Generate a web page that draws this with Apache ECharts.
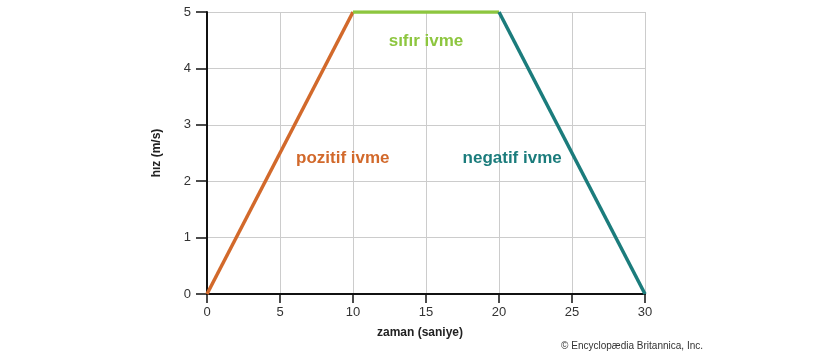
<!DOCTYPE html>
<html><head><meta charset="utf-8">
<script src="https://cdn.jsdelivr.net/npm/echarts@6/dist/echarts.min.js"></script>
<style>html,body{margin:0;padding:0;background:#fff}#c{width:825px;height:357px}</style>
</head><body><div id="c"></div>
<script>
const xTicks = [0, 5, 10, 15, 20, 25, 30];
const yTicks = [0, 1, 2, 3, 4, 5];
const positiveSeg = [[0, 0], [10, 5]];
const zeroSeg = [[10, 5], [20, 5]];
const negativeSeg = [[20, 5], [30, 0]];
const labelTexts = ['pozitif ivme', 'sıfır ivme', 'negatif ivme'];
const labelPoints = [[9.3, 2.40], [15.0, 4.48], [20.9, 2.40]];
const colors = ['#d2692b', '#8dc63f', '#1b7c7c'];

const chart = echarts.init(document.getElementById('c'));
const font = 'Liberation Sans, Arial, Helvetica, sans-serif';
chart.setOption({
  animation: false,
  grid: {left: 207, right: 180, top: 12, bottom: 63},
  xAxis: {
    type: 'value', min: 0, max: 30, interval: 5,
    name: 'zaman (saniye)', nameLocation: 'middle', nameGap: 33,
    nameTextStyle: {fontFamily: font, fontSize: 12, fontWeight: 'bold', color: '#222', padding: [0, 12, 0, 0]},
    axisLine: {show: true, lineStyle: {color: '#111', width: 2}},
    axisTick: {show: true, length: 9, lineStyle: {color: '#111', width: 1.5}},
    axisLabel: {fontFamily: font, fontSize: 13, color: '#333', margin: 12},
    splitLine: {show: true, lineStyle: {color: '#cccccc', width: 1}}
  },
  yAxis: {
    type: 'value', min: 0, max: 5, interval: 1,
    name: 'hız (m/s)', nameLocation: 'middle', nameGap: 44, nameRotate: 90,
    nameTextStyle: {fontFamily: font, fontSize: 12, fontWeight: 'bold', color: '#222'},
    axisLine: {show: true, lineStyle: {color: '#111', width: 2}},
    axisTick: {show: true, length: 11, lineStyle: {color: '#111', width: 1.5}},
    axisLabel: {fontFamily: font, fontSize: 13, color: '#333', margin: 16},
    splitLine: {show: true, lineStyle: {color: '#cccccc', width: 1}}
  },
  series: [
    {type: 'line', data: positiveSeg, symbol: 'none', lineStyle: {color: colors[0], width: 3.5}, z: 3},
    {type: 'line', data: zeroSeg, symbol: 'none', lineStyle: {color: colors[1], width: 3.5}, z: 3},
    {type: 'line', data: negativeSeg, symbol: 'none', lineStyle: {color: colors[2], width: 3.5}, z: 3},
    {type: 'scatter', symbolSize: 1, silent: true, z: 4,
     itemStyle: {opacity: 0},
     data: labelPoints.map((p, i) => ({
       value: p,
       label: {show: true, position: 'inside', formatter: labelTexts[i], opacity: 1,
         color: colors[i], fontFamily: font, fontSize: 17, fontWeight: 'bold'}
     }))}
  ],
  graphic: [{
    type: 'text', right: 122, bottom: 6,
    style: {text: '© Encyclopædia Britannica, Inc.', fontFamily: font, fontSize: 10, fill: '#333'}
  }]
});
</script></body></html>
